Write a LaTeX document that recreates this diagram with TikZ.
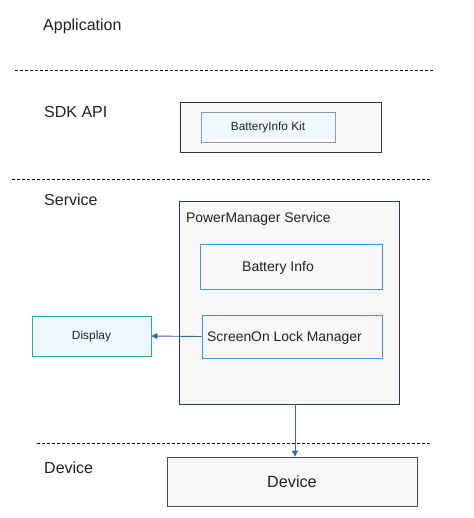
\documentclass[tikz,border=0pt]{standalone}
\usepackage{fontspec}
\setmainfont{Liberation Sans}
\usetikzlibrary{arrows.meta}
\definecolor{boxfill}{HTML}{F7F7F7}
\definecolor{lightblue}{HTML}{F0F8FF}
\definecolor{navy}{HTML}{23405F}
\definecolor{bright}{HTML}{3399FF}
\definecolor{teal}{HTML}{1FB295}
\definecolor{arrowc}{HTML}{2E6AA6}
\definecolor{txt}{HTML}{222222}
\tikzset{
  layer/.style={font=\fontsize{16}{18}\selectfont, text=txt, anchor=west, inner sep=0pt},
  sep/.style={dashed, dash pattern=on 3pt off 2pt, line width=0.8pt, black},
  outer/.style={draw=#1, fill=boxfill, line width=0.9pt},
  conn/.style={draw=arrowc, line width=0.9pt, -{Triangle[length=6pt,width=6pt]}}
}
\begin{document}
\begin{tikzpicture}[x=1pt,y=-1pt]
\useasboundingbox (0,0) rectangle (473,518);
\fill[white] (0,0) rectangle (473,518);
% layer labels
\node[layer] (lapp) at (43,26) {Application};
\node[layer] (lsdk) at (44,112) {SDK API};
\node[layer] (lsrv) at (44,200) {Service};
\node[layer] (ldev) at (44,468) {Device};
% separators
\coordinate (s1a) at (15,70); \coordinate (s1b) at (433,70);
\coordinate (s2a) at (12,179); \coordinate (s2b) at (430,179);
\coordinate (s3a) at (37,443); \coordinate (s3b) at (430,443);
\draw[sep] (s1a) -- (s1b);
\draw[sep] (s2a) -- (s2b);
\draw[sep] (s3a) -- (s3b);
% SDK
\draw[outer=black!80] (180,102) rectangle (381,152);
\node[draw=black!40, fill=lightblue, line width=0.9pt, minimum width=134pt, minimum height=30pt, inner sep=0pt, font=\fontsize{11.8}{13}\selectfont, text=txt] (kit) at (268,127) {BatteryInfo Kit};
% PowerManager service
\node[outer=navy, minimum width=220pt, minimum height=203pt, inner sep=0pt] (pms) at (289,302.5) {};
\node[anchor=west, inner sep=0pt, font=\fontsize{13.9}{15}\selectfont, text=txt] (pmsl) at (186,218.5) {PowerManager Service};
\node[draw=bright, fill=boxfill, line width=0.9pt, minimum width=182pt, minimum height=45pt, inner sep=0pt] (binfo) at (291,266.5) {};
\node[inner sep=0pt, font=\fontsize{14}{15}\selectfont, text=txt] (binfol) at (278,268) {Battery Info};
\node[draw=bright, fill=boxfill, line width=0.9pt, minimum width=180pt, minimum height=43pt, inner sep=0pt] (scr) at (292,336.5) {};
\node[anchor=west, inner sep=0pt, font=\fontsize{13.9}{15}\selectfont, text=txt] (scrl) at (207,337.5) {ScreenOn Lock Manager};
% Display
\node[draw=teal, fill=lightblue, line width=0.9pt, minimum width=119pt, minimum height=40pt, inner sep=0pt, font=\fontsize{11.9}{13}\selectfont, text=txt] (disp) at (91.5,336) {Display};
% Device
\node[draw=black!70, fill=boxfill, line width=0.9pt, minimum width=250pt, minimum height=49pt, inner sep=0pt, font=\fontsize{16.2}{18}\selectfont, text=txt] (dev) at (292,481.5) {Device};
% connectors
\draw[conn] (scr.west) -- (disp.east);
\draw[conn] (pms.south -| 295,0) -- (dev.north -| 295,0);
\end{tikzpicture}
\end{document}
